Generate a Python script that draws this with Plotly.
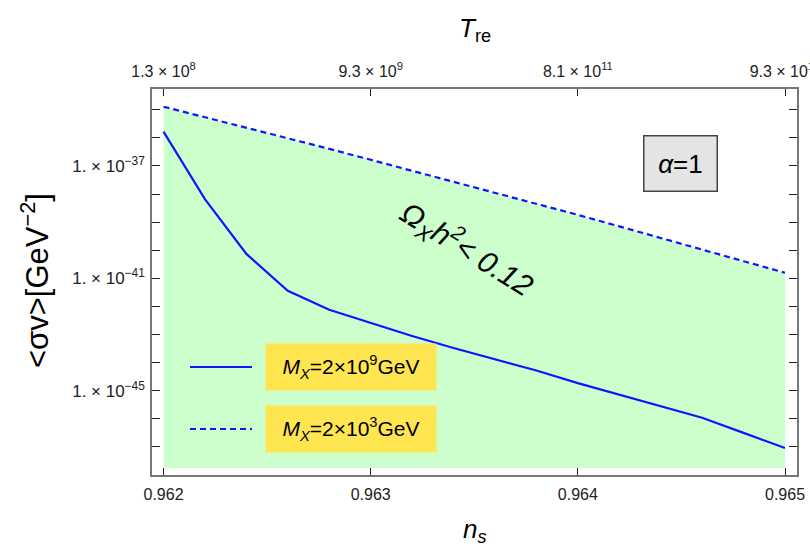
import plotly.graph_objects as go

# ---------------- data ----------------
ns = [0.9620, 0.9622, 0.9624, 0.9626, 0.9628, 0.9630, 0.9632, 0.9634,
      0.9636, 0.9638, 0.9640, 0.9642, 0.9644, 0.9646, 0.9648, 0.9650]

# log10 <sigma v> for M_X = 2e9 GeV (solid)
log_sv_m9 = [-35.78, -38.18, -40.13, -41.44, -42.12, -42.59, -43.05, -43.48,
             -43.88, -44.28, -44.73, -45.14, -45.55, -45.96, -46.50, -47.04]
# log10 <sigma v> for M_X = 2e3 GeV (dashed)
log_sv_m3 = [-34.89, -35.26, -35.64, -36.02, -36.39, -36.78, -37.17, -37.56,
             -37.95, -38.34, -38.74, -39.15, -39.57, -39.98, -40.39, -40.80]
# lower edge of the shaded region (log10)
log_floor = -47.75

ns_ticks = [0.962, 0.963, 0.964, 0.965]
ns_ticktext = ["0.962", "0.963", "0.964", "0.965"]
tre_ticktext = ["1.3 × 10<sup>8</sup>", "9.3 × 10<sup>9</sup>",
                "8.1 × 10<sup>11</sup>", "9.3 × 10<sup>13</sup>"]
y_major_exp = [-45, -41, -37]
y_minor_exp = list(range(-48, -33))

legend_labels = ["<i>M<sub>X</sub></i>=2×10<sup>9</sup>GeV",
                 "<i>M<sub>X</sub></i>=2×10<sup>3</sup>GeV"]

sv_m9 = [10 ** v for v in log_sv_m9]
sv_m3 = [10 ** v for v in log_sv_m3]
floor = [10 ** log_floor for _ in ns]

# ---------------- layout geometry (pixels) ----------------
W, H = 810, 555
L, R, T, B = 152, 797, 89, 475
pw, ph = R - L, B - T


def px(x):
    return (x - L) / pw


def py(y):
    return (B - y) / ph


BLUE = "#1414ff"
GREEN = "#ccffcc"
FONT = "Liberation Sans, Arial, sans-serif"
TICKFONT = dict(family=FONT, size=16, color="#222222")
YTICKFONT = dict(family=FONT, size=17, color="#222222")

fig = go.Figure()
fig.add_trace(go.Scatter(x=ns, y=floor, mode="lines", line=dict(width=0),
                         showlegend=False, hoverinfo="skip"))
fig.add_trace(go.Scatter(x=ns, y=sv_m3, mode="lines", fill="tonexty",
                         fillcolor=GREEN,
                         line=dict(color=BLUE, width=2.2, dash="6px,4px"),
                         showlegend=False))
fig.add_trace(go.Scatter(x=ns, y=sv_m9, mode="lines",
                         line=dict(color=BLUE, width=2.2), showlegend=False))
# carrier trace for the top (T_re) axis
fig.add_trace(go.Scatter(x=ns, y=sv_m9, xaxis="x2", mode="lines",
                         line=dict(width=0), opacity=0, showlegend=False,
                         hoverinfo="skip"))

xr = [0.962 - 11.5 / 207.2 * 0.001, 0.965 + 12 / 207.2 * 0.001]

fig.update_layout(
    width=W, height=H,
    margin=dict(l=L, r=W - R, t=T, b=H - B, autoexpand=False),
    paper_bgcolor="white", plot_bgcolor="white",
    showlegend=False,
    xaxis=dict(range=xr, tickvals=ns_ticks, ticktext=ns_ticktext,
               ticks="inside", ticklen=7, tickwidth=1.2, tickcolor="#222",
               showline=True, linecolor="#777777", linewidth=1.5, mirror=True,
               showgrid=False, zeroline=False, tickfont=TICKFONT,
               ticklabeloverflow="allow", automargin=False,
               ticklabelstandoff=4),
    xaxis2=dict(range=xr, overlaying="x", side="top", tickvals=ns_ticks,
                ticktext=tre_ticktext, ticks="inside", ticklen=7, tickwidth=1.2,
                tickcolor="#222", showline=False, showgrid=False,
                zeroline=False, tickfont=TICKFONT, ticklabeloverflow="allow",
                automargin=False, ticklabelstandoff=8),
    yaxis=dict(type="log", range=[-48, -34.26],
               tickvals=[10 ** e for e in y_major_exp],
               ticktext=["1. × 10<sup>\u2212%d</sup>" % (-e) for e in y_major_exp],
               ticks="inside", ticklen=8, tickwidth=1.2, tickcolor="#222",
               minor=dict(tickvals=[10 ** e for e in y_minor_exp], ticks="inside",
                          ticklen=5, tickcolor="#222", tickwidth=1.2),
               showline=True, linecolor="#777777", linewidth=1.5, mirror="allticks",
               showgrid=False, zeroline=False, tickfont=YTICKFONT,
               ticklabelstandoff=2, automargin=False),
)

ann = []
C = dict(xref="paper", yref="paper", xanchor="center", yanchor="middle",
         showarrow=False)
# axis titles
ann.append(dict(x=px(475), y=py(30), text="<i>T</i><sub>re</sub>",
                font=dict(family=FONT, size=26, color="black"), **C))
ann.append(dict(x=px(475), y=py(530), text="<i>n<sub>s</sub></i>",
                font=dict(family=FONT, size=26, color="black"), **C))
ann.append(dict(x=px(35), y=py(280), text="<σv>[GeV<sup>\u22122</sup>]",
                textangle=-90, font=dict(family=FONT, size=31, color="black"), **C))
# alpha box
ann.append(dict(x=px(680), y=py(163), text="<i>α</i>=1",
                font=dict(family=FONT, size=26, color="black"),
                bgcolor="#e4e4e4", bordercolor="#444", borderwidth=1.5,
                width=62, height=44, borderpad=5, **C))
# omega label
ann.append(dict(x=px(467), y=py(249), text="<i>Ω<sub>X</sub>h<sup>2</sup>< 0.12</i>",
                textangle=32, font=dict(family=FONT, size=30, color="black"), **C))
# legend labels
for lab, yc in zip(legend_labels, [367, 429]):
    ann.append(dict(x=px(351), y=py(yc), text=lab,
                    font=dict(family=FONT, size=21, color="black"),
                    bgcolor="#ffe54f", width=162, height=38, borderpad=4, **C))
fig.update_layout(annotations=ann)

# legend line samples
shapes = []
for yc, dash in zip([367, 429], ["solid", "6px,4px"]):
    shapes.append(dict(type="line", xref="paper", yref="paper",
                       x0=px(190), x1=px(252), y0=py(yc), y1=py(yc),
                       line=dict(color=BLUE, width=2.2, dash=dash)))
fig.update_layout(shapes=shapes)

fig.write_html("out.html")
